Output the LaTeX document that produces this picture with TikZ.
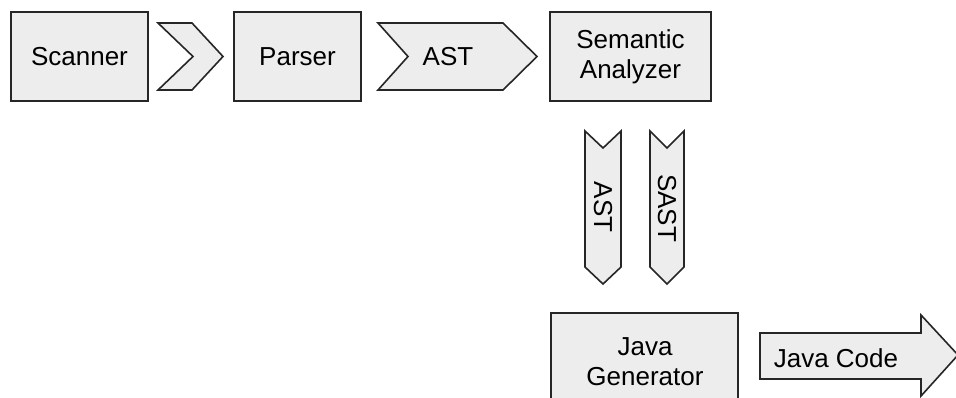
\documentclass[tikz,border=0pt]{standalone}
\usepackage{fontspec}
\setmainfont{Liberation Sans}
\begin{document}
\begin{tikzpicture}[x=1pt,y=-1pt,
  shp/.style={draw=black!85,fill=black!7,line width=1.6pt,line join=miter},
  lbl/.style={font=\fontsize{26}{30}\selectfont,align=center,inner sep=0pt},
  boxstyle/.style={shp,minimum width=0pt,inner sep=0pt}]
\useasboundingbox (0,0) rectangle (956,397);
\fill[white] (0,0) rectangle (956,397);
\clip (0,0) rectangle (956,397);
% boxes
\draw[shp] (11,12) rectangle (148,101);
\node[lbl] (scanner) at (79.5,56.5) {Scanner};
\draw[shp] (234,12) rectangle (361,101);
\node[lbl] (parser) at (297.5,56.5) {Parser};
\draw[shp] (550,12) rectangle (711,101);
\node[lbl] (sem) at (630.5,57) {Semantic\\Analyzer};
\draw[shp] (551,313) rectangle (738,420);
\node[lbl] (gen) at (645,362) {Java\\Generator};
% chevron scanner -> parser
\draw[shp] (158,23) -- (192,23) -- (223,56.5) -- (192,90) -- (158,90) -- (193,56.5) -- cycle;
% AST chevron
\draw[shp] (378,23) -- (503,23) -- (537,56.5) -- (503,90) -- (378,90) -- (408,56.5) -- cycle;
\node[lbl] (ast1) at (448,57) {AST};
% vertical chevrons
\draw[shp] (585,131) -- (603,148) -- (621,131) -- (621,267) -- (603,284) -- (585,267) -- cycle;
\node[lbl,rotate=-90] (ast2) at (603,207) {AST};
\draw[shp] (650,131) -- (667,148) -- (684,131) -- (684,267) -- (667,284) -- (650,267) -- cycle;
\node[lbl,rotate=-90] (sast) at (667,208) {SAST};
% Java code arrow
\draw[shp] (760,333) -- (921,333) -- (921,315) -- (958,355) -- (921,396) -- (921,379) -- (760,379) -- cycle;
\node[lbl] (code) at (836,358) {Java Code};
\end{tikzpicture}
\end{document}
